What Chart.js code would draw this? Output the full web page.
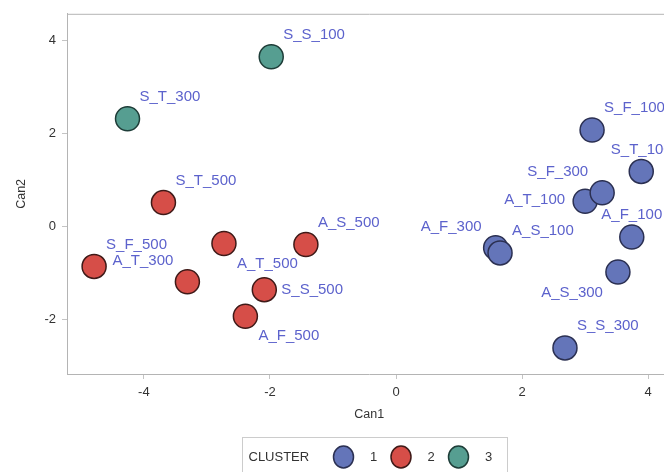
<!DOCTYPE html>
<html>
<head>
<meta charset="utf-8">
<script src="https://cdn.jsdelivr.net/npm/chart.js@4/dist/chart.umd.min.js"></script>
<style>
  html, body { margin: 0; padding: 0; background: #ffffff; overflow: hidden; width: 664px; height: 472px; }
  canvas { display: block; }
</style>
</head>
<body>
<canvas id="plot" width="685" height="472"></canvas>
<script>
// Canonical discriminant scores by observation
const obsNames = ['S_S_100', 'S_T_300',
  'S_T_500', 'S_F_500', 'A_T_300', 'A_T_500', 'A_S_500', 'S_S_500', 'A_F_500',
  'S_F_100', 'S_T_100', 'A_T_100', 'S_F_300', 'A_F_100', 'A_S_300', 'S_S_300', 'A_F_300', 'A_S_100'];
const can1 = [-1.98, -4.26,
  -3.69, -4.79, -3.31, -2.73, -1.43, -2.09, -2.39,
  3.11, 3.89, 3.00, 3.27, 3.74, 3.52, 2.68, 1.58, 1.65];
const can2 = [3.64, 2.31,
  0.51, -0.86, -1.19, -0.37, -0.39, -1.36, -1.93,
  2.07, 1.18, 0.54, 0.72, -0.23, -0.98, -2.61, -0.46, -0.57];
const cluster = [3, 3,
  2, 2, 2, 2, 2, 2, 2,
  1, 1, 1, 1, 1, 1, 1, 1, 1];
const clusterIds = [1, 2, 3];
const xTicks = [-4, -2, 0, 2, 4];
const yTicks = [-2, 0, 2, 4];

// where each observation label sits around its marker
const labelSide = ['tr', 'tr',
  'tr', 'tr', 'tl', 'br', 'tr', 'r', 'br',
  'tr', 'tc', 'l', 'tl', 'tc', 'bl', 'tr', 'tl', 'tr'];
const SIDE = {
  tr: [12, -22, 'left'], tl: [-14, -21, 'right'], tc: [0, -22, 'center'],
  r: [17, 0, 'left'], l: [-20, -1, 'right'], br: [13, 20, 'left'], bl: [-15, 21, 'right']
};

const fills = { 1: '#6475b9', 2: '#d64e48', 3: '#569e91' };
const edges = { 1: '#2b3052', 2: '#3f1a18', 3: '#1e3d38' };
const FONT = '"Liberation Sans", Arial, Helvetica, sans-serif';
Chart.defaults.font.family = FONT;
Chart.defaults.color = '#333333';

const datasets = clusterIds.map(c => ({
  label: String(c),
  data: obsNames.map((n, i) => ({ x: can1[i], y: can2[i], name: n, side: labelSide[i], c: cluster[i] }))
                .filter(p => p.c === c),
  backgroundColor: fills[c],
  borderColor: edges[c],
  borderWidth: 1.5,
  pointRadius: 12,
  pointHoverRadius: 12,
  order: 4 - c
}));

const obsLabels = {
  id: 'obsLabels',
  afterDatasetsDraw(chart) {
    const { ctx, scales: { x, y } } = chart;
    ctx.save();
    ctx.font = '15px ' + FONT;
    ctx.fillStyle = '#5c62cc';
    ctx.textBaseline = 'middle';
    chart.data.datasets.forEach(ds => {
      ds.data.forEach(p => {
        const [dx, dy, align] = SIDE[p.side];
        ctx.textAlign = align;
        ctx.fillText(p.name, x.getPixelForValue(p.x) + dx, y.getPixelForValue(p.y) + dy);
      });
    });
    ctx.restore();
  }
};

const frameAndLegend = {
  id: 'frameAndLegend',
  afterDraw(chart) {
    const { ctx, chartArea: a } = chart;
    ctx.save();
    // top and right edges of the plot frame
    ctx.strokeStyle = '#b4b4b4';
    ctx.lineWidth = 1;
    ctx.beginPath();
    ctx.moveTo(a.left, a.top + 0.5);
    ctx.lineTo(a.right + 0.5, a.top + 0.5);
    ctx.lineTo(a.right + 0.5, a.bottom);
    ctx.stroke();

    // group legend below the axis
    const cx = (a.left + a.right) / 2;
    const boxL = Math.round(cx - 127) + 0.5, boxT = 437.5;
    ctx.strokeStyle = '#cccccc';
    ctx.strokeRect(boxL, boxT, 265, 50);
    const ly = 457;
    ctx.font = '13px ' + FONT;
    ctx.fillStyle = '#333333';
    ctx.textBaseline = 'middle';
    ctx.textAlign = 'left';
    ctx.fillText('CLUSTER', boxL + 6, ly);
    chart.data.datasets.forEach((ds, i) => {
      const mx = boxL + 101 + i * 57.5;
      ctx.beginPath();
      ctx.ellipse(mx, ly, 10, 11, 0, 0, Math.PI * 2);
      ctx.fillStyle = ds.backgroundColor;
      ctx.fill();
      ctx.lineWidth = 1.5;
      ctx.strokeStyle = ds.borderColor;
      ctx.stroke();
      ctx.fillStyle = '#333333';
      ctx.textAlign = 'center';
      ctx.fillText(ds.label, mx + 30, ly);
    });
    ctx.restore();
  }
};

new Chart(document.getElementById('plot'), {
  type: 'scatter',
  data: { datasets },
  options: {
    responsive: false,
    animation: false,
    devicePixelRatio: 1,
    events: [],
    layout: { padding: { left: 0, top: 12, right: 0, bottom: 0 } },
    plugins: { legend: { display: false }, tooltip: { enabled: false } },
    scales: {
      x: {
        type: 'linear',
        min: -5.22,
        max: 4.37,
        afterFit(s) { s.height = 98; },
        afterBuildTicks(s) { s.ticks = xTicks.map(v => ({ value: v })); },
        ticks: { padding: 6, color: '#333333', font: { size: 13 } },
        grid: { drawOnChartArea: false, drawTicks: true, tickLength: 5, tickColor: '#c4c4c4' },
        border: { display: true, color: '#b4b4b4', width: 1 },
        title: { display: true, text: 'Can1', color: '#333333', font: { size: 12.5 }, padding: { top: 0, bottom: 50 } }
      },
      y: {
        type: 'linear',
        min: -3.171,
        max: 4.564,
        afterFit(s) { s.width = 67; },
        afterBuildTicks(s) { s.ticks = yTicks.map(v => ({ value: v })); },
        ticks: { padding: 6, color: '#333333', font: { size: 13 } },
        grid: { drawOnChartArea: false, drawTicks: true, tickLength: 5, tickColor: '#c4c4c4' },
        border: { display: true, color: '#b4b4b4', width: 1 },
        title: { display: true, text: 'Can2', color: '#333333', font: { size: 12.5 }, padding: { top: 14, bottom: 0 } }
      }
    }
  },
  plugins: [obsLabels, frameAndLegend]
});
</script>
</body>
</html>
